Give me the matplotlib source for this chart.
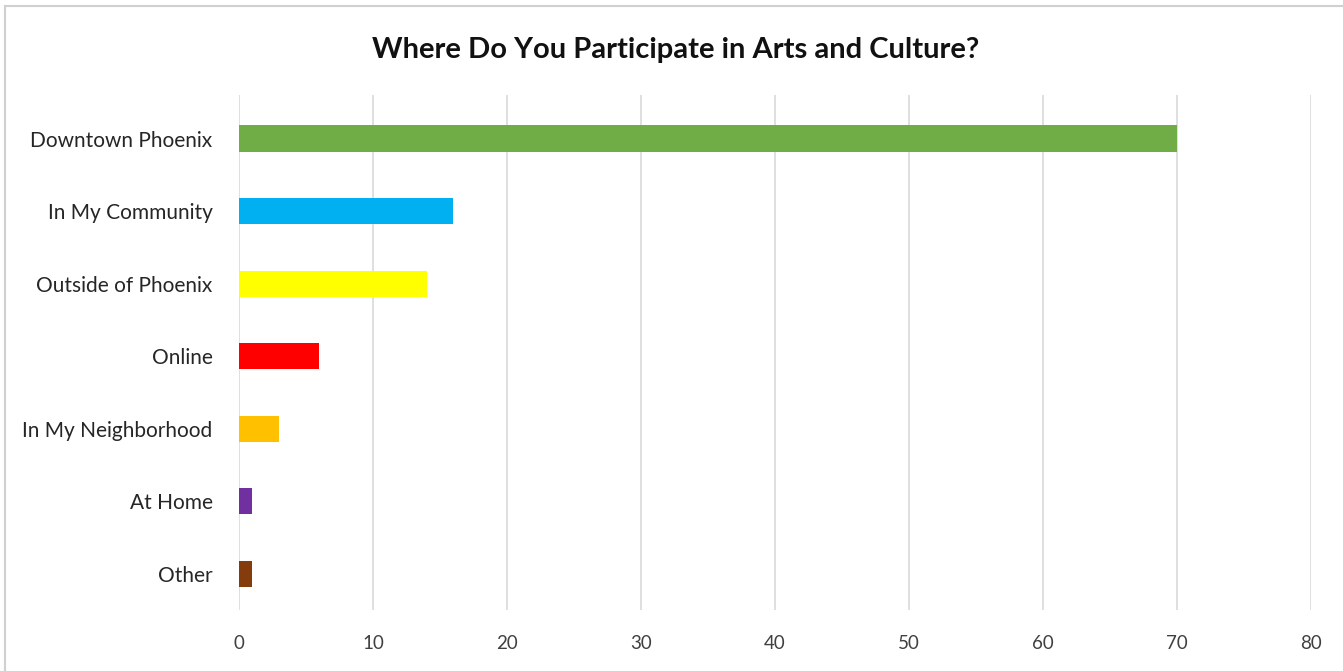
import matplotlib
matplotlib.use("Agg")
import matplotlib.pyplot as plt
from matplotlib.patches import Rectangle

categories = ["Downtown Phoenix", "In My Community", "Outside of Phoenix", "Online",
              "In My Neighborhood", "At Home", "Other"]
values = [70, 16, 14, 6, 3, 1, 1]
colors = ["#70AD47", "#00B0F0", "#FFFF00", "#FF0000", "#FFC000", "#7030A0", "#843C0C"]
x_ticks = [0, 10, 20, 30, 40, 50, 60, 70, 80]

plt.rcParams['font.family'] = ['Lato', 'DejaVu Sans']

W, H = 1343, 671
fig = plt.figure(figsize=(W / 100, H / 100), dpi=100)
fig.patch.set_facecolor("white")

# chart frame (top and left edges visible)
fig.add_artist(Rectangle((5 / W, -0.05), 1.2, 1 - 6 / H + 0.05, transform=fig.transFigure,
                         fill=False, edgecolor="#D0D0D0", linewidth=1.5))

ax = fig.add_axes([239 / W, 1 - 610 / H, (1311 - 239) / W, (610 - 95) / H])
pos = list(range(len(categories)))
ax.barh(pos, values, height=0.36, color=colors, zorder=3)
ax.set_xlim(0, 80)
ax.set_ylim(6.5, -0.6)
ax.set_xticks(x_ticks)
ax.set_xticklabels([str(t) for t in x_ticks], fontsize=13.5, color="#404040")
ax.set_yticks(pos)
ax.set_yticklabels(categories, fontsize=15, color="#262626")
ax.tick_params(axis="both", length=0)
ax.tick_params(axis="x", pad=18)
ax.tick_params(axis="y", pad=19)
ax.grid(axis="x", color="#D9D9D9", linewidth=1.2, zorder=0)
for s in ax.spines.values():
    s.set_visible(False)

fig.text(676 / W, 1 - 50 / H, "Where Do You Participate in Arts and Culture?",
         ha="center", va="center", fontsize=21, fontweight="bold", color="#111111")

fig.savefig("out.png", dpi=100, facecolor="white")
